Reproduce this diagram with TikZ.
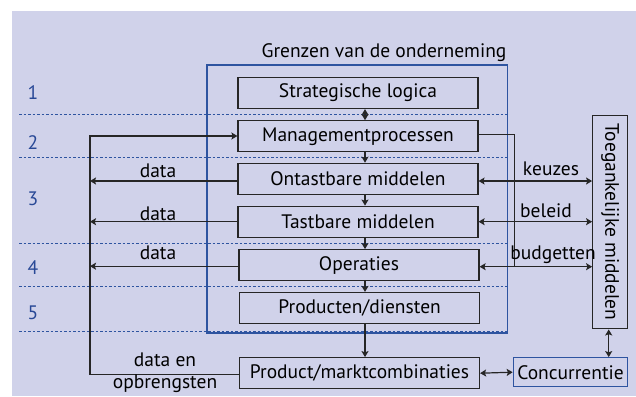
\documentclass[tikz,border=0pt]{standalone}
\usepackage{fontspec}
\setmainfont{PT Sans}
\usetikzlibrary{arrows.meta,calc}
\definecolor{bgpanel}{RGB}{208,210,234}
\definecolor{frameblue}{RGB}{46,84,160}
\definecolor{numblue}{RGB}{40,72,150}
\begin{document}
\begin{tikzpicture}[x=1pt,y=-1pt,
  every node/.style={font=\fontsize{19.5}{22}\selectfont},
  stagebox/.style={draw=black!85,line width=1.2pt,minimum width=240pt,minimum height=31pt,inner sep=0pt},
  sidebox/.style={draw=black!85,line width=1.2pt,inner sep=0pt},
  conn/.style={draw=black!85,line width=1.2pt},
  tip/.style={conn,-{Stealth[length=6pt,width=7pt,inset=1.2pt]}},
  dtip/.style={conn,{Stealth[length=6pt,width=7pt,inset=1.2pt]}-{Stealth[length=6pt,width=7pt,inset=1.2pt]}},
  layer/.style={draw=frameblue,line width=0.9pt,dash pattern=on 2.5pt off 2pt},
  num/.style={text=numblue,anchor=center},
  lbl/.style={anchor=base}]
\useasboundingbox (0,0) rectangle (636,396);
\fill[bgpanel] (12,11) rectangle (636,396);

% layer separators
\foreach \yy in {114.3,157,243.7,286.3,331}
  \draw[layer] (19,\yy) -- (507.7,\yy);

% layer numbers
\node[num] (n1) at (33,93) {1};
\node[num] (n2) at (33,143) {2};
\node[num] (n3) at (33,199) {3};
\node[num] (n4) at (33,268) {4};
\node[num] (n5) at (33,313) {5};

% boundary of the firm
\draw[frameblue,line width=1.1pt] (207,65) rectangle (507.7,333);
\node[anchor=base] (title) at (384,57) {Grenzen van de onderneming};

% stages
\node[stagebox] (strat) at (358,93) {Strategische logica};
\node[stagebox] (mgmt) at (358,136.3) {Managementprocessen};
\node[stagebox] (ontast) at (358,178.8) {Ontastbare middelen};
\node[stagebox] (tast) at (358,221.7) {Tastbare middelen};
\node[stagebox] (oper) at (359,265.2) {Operaties};
\node[stagebox] (prod) at (359.6,308) {Producten/diensten};
\node[stagebox] (pmc) at (359.5,373.2) {Product/marktcombinaties};

% external boxes
\node[sidebox,draw=frameblue,minimum width=114.4pt,minimum height=29pt] (conc) at (570.5,372.2) {Concurrentie};
\node[sidebox,minimum width=35pt,minimum height=213.7pt] (toeg) at (610.2,222) {};
\node[rotate=-90] (toegtxt) at (toeg.center) {Toegankelijke middelen};

% guide coordinates
\coordinate (xa) at (365,0);
\coordinate (L) at (90,0);
\coordinate (R) at (514.3,0);
\coordinate (xc) at (608.7,0);

% vertical flow through the stages
\draw[dtip] (strat.south -| xa) -- (mgmt.north -| xa);
\draw[tip] (mgmt.south -| xa) -- (ontast.north -| xa);
\draw[tip] (ontast.south -| xa) -- (tast.north -| xa);
\draw[tip] (tast.south -| xa) -- (oper.north -| xa);
\draw[tip] (oper.south -| xa) -- (prod.north -| xa);
\draw[tip] (prod.south -| xa) -- (pmc.north -| xa);

% feedback loop on the left
\draw[tip] ($(pmc.west)+(0,1)$) -- ($(pmc.west -| L)+(0,1)$) -- ($(mgmt.west -| L)+(0,-0.3)$) -- ($(mgmt.west)+(0,-0.3)$);
\draw[tip] ($(ontast.west)+(0,2.2)$) -- ($(ontast.west -| L)+(0,2.2)$);
\draw[tip] (tast.west) -- (tast.west -| L);
\draw[tip] ($(oper.west)+(0,1)$) -- ($(oper.west -| L)+(0,1)$);
\node[lbl] (d1) at (158,177) {data};
\node[lbl] (d2) at (158,220) {data};
\node[lbl] (d3) at (158,259) {data};
\node[lbl] (d4) at (165,366) {data en};
\node[lbl] (d5) at (165,388) {opbrengsten};

% management control on the right
\draw[conn] ($(mgmt.east)+(0,-1.5)$) -- ($(mgmt.east -| R)+(0,-1.5)$) -- ($(oper.east -| R)+(0,1.5)$);
\draw[dtip] ($(ontast.east)+(0,2.2)$) -- ($(toeg.west |- ontast.east)+(0,2.2)$);
\draw[dtip] (tast.east) -- (toeg.west |- tast.east);
\draw[dtip] ($(oper.east)+(0,1.5)$) -- ($(toeg.west |- oper.east)+(0,1.5)$);
\node[lbl] (k1) at (551,175) {keuzes};
\node[lbl] (k2) at (546,217) {beleid};
\node[lbl] (k3) at (553,259) {budgetten};

% market side
\draw[dtip] (toeg.south -| xc) -- (conc.north -| xc);
\draw[dtip] (pmc.east) -- (conc.west);
\end{tikzpicture}
\end{document}
